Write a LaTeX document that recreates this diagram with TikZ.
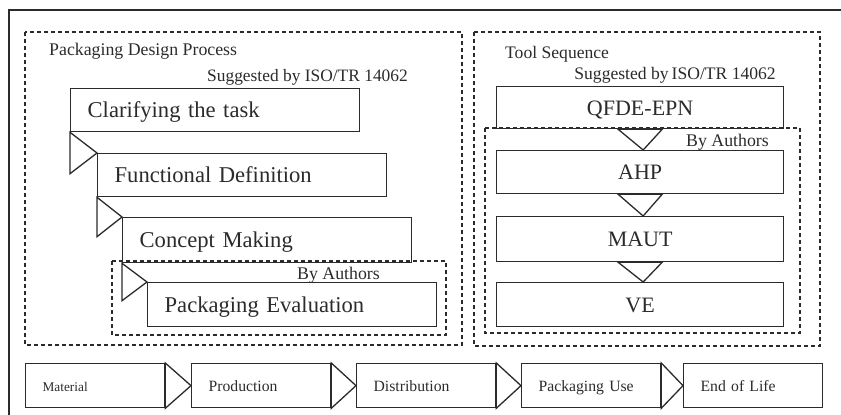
\documentclass[tikz,border=0pt]{standalone}
\usepackage{fontspec}
\setmainfont{Liberation Serif}
\usetikzlibrary{calc}
\definecolor{ink}{HTML}{2B2B2B}
\begin{document}
\begin{tikzpicture}[x=1pt,y=-1pt,
  every node/.style={text=ink},
  frame/.style={draw=ink, line width=2pt},
  group/.style={draw=ink, line width=1.4pt, dash pattern=on 4pt off 3pt},
  stage/.style={draw=ink, line width=1.3pt, anchor=north west, inner xsep=17pt, inner ysep=0pt,
    text width=255pt, text height=15pt, text depth=0pt, minimum height=44pt, align=left,
    font=\fontsize{22.6}{26}\selectfont},
  tool/.style={draw=ink, line width=1.3pt, anchor=north west, inner sep=0pt,
    text height=15.5pt, text depth=0pt, minimum width=287pt, font=\fontsize{22}{26}\selectfont},
  phase/.style={draw=ink, line width=1.3pt, anchor=north west, inner xsep=17pt, inner ysep=0pt,
    text width=105pt, text height=11pt, text depth=0pt, minimum height=44pt, align=left,
    font=\fontsize{15.7}{18}\selectfont},
  tri/.style={draw=ink, line width=1.3pt, fill=white, line join=miter},
  caption/.style={inner sep=0pt, font=\fontsize{17.8}{20}\selectfont},
]
\useasboundingbox (0,0) rectangle (841,415);

% outer frame (top and left edges)
\draw[frame] (9,415) -- (9,10) -- (841,10);

% group outlines
\draw[group] (25,32) rectangle (462,345);
\draw[group] (112,261) rectangle (446,335);
\draw[group] (474,32) rectangle (820,346);
\draw[group] (485,128) rectangle (800,333);

% captions
\node[caption, anchor=base west] (capL) at (49,55) {Packaging Design Process};
\node[caption, anchor=base east, font=\fontsize{17.4}{20}\selectfont] (sugL) at (408,81) {Suggested by ISO/TR 14062};
\node[caption, anchor=base east] (autL) at (380,279) {By Authors};
\node[caption, anchor=base west, font=\fontsize{17.6}{20}\selectfont] (capR) at (505,58) {Tool Sequence};
\node[caption, anchor=base east, font=\fontsize{17.6}{20}\selectfont] (sugR) at (776,79) {Suggested by\,ISO/TR 14062};
\node[caption, anchor=base east] (autR) at (769,146) {By Authors};

% design process stages
\node[stage, minimum height=43pt] (b1) at (70,88) {Clarifying the task};
\node[stage, minimum height=43pt] (b2) at (97,153) {Functional Definition};
\node[stage, minimum height=45pt] (b3) at (122,217) {Concept Making};
\node[stage] (b4) at (147,282) {Packaging Evaluation};

\foreach \a/\b in {b1/b2, b2/b3, b3/b4}
  \draw[tri] (\a.south west) -- (\b.north west)
    -- ($(\a.south west)!2!(\a.south west |- \b.north west)$) -- cycle;

% tool sequence
\node[tool, minimum height=42pt] (q) at (496,86) {QFDE-EPN};
\node[tool, minimum height=43pt] (a) at (496,150) {AHP};
\node[tool, minimum height=45pt] (m) at (496,216) {MAUT};
\node[tool, minimum height=44pt] (v) at (496,282) {VE};

\foreach \a/\b in {q/a, a/m, m/v}
  \draw[tri] ($(\a.south)+(-22,0)$) -- ($(\b.north)+(3,0)$) -- ($(\a.south)+(22,0)$) -- cycle;

% life cycle phases
\node[phase, font=\fontsize{13.3}{16}\selectfont] (p1) at (25,363) {Material};
\node[phase] (p2) at (191,363) {Production};
\node[phase] (p3) at (356,363) {Distribution};
\node[phase] (p4) at (521,363) {Packaging Use};
\node[phase] (p5) at (683,363) {End of Life};

\foreach \a/\b in {p1/p2, p2/p3, p3/p4, p4/p5}
  \draw[tri] (\a.north east) -- (\b.west) -- (\a.south east) -- cycle;
\end{tikzpicture}
\end{document}
